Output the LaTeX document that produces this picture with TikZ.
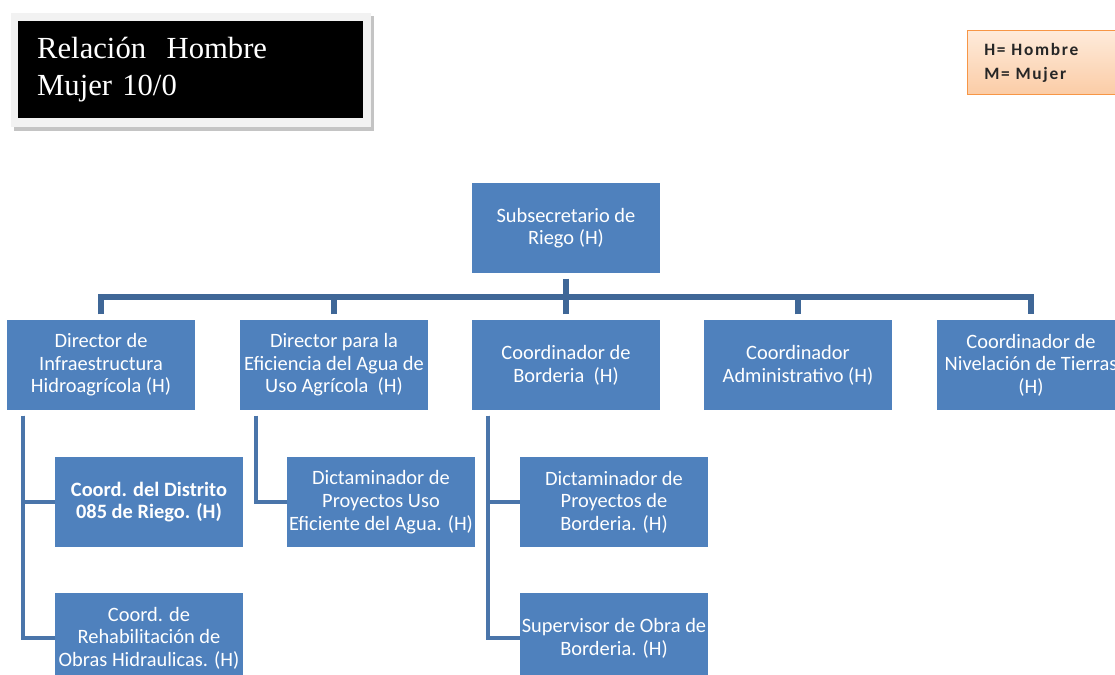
\documentclass[tikz,border=0pt]{standalone}
\usepackage{fontspec}
\setmainfont{Carlito}
\newfontfamily\serifa{Liberation Serif}
\usetikzlibrary{calc}

\definecolor{azul}{HTML}{4F81BD}
\definecolor{barra}{HTML}{3F6797}
\definecolor{rama}{HTML}{4A75AA}
\definecolor{marco}{HTML}{F2F2F2}
\definecolor{sombra}{HTML}{C4C4C4}
\definecolor{naranja}{HTML}{F79646}
\definecolor{durazno1}{HTML}{FEEBDB}
\definecolor{durazno2}{HTML}{FBCCA6}

\tikzset{
    puesto/.style={fill=azul, text=white, minimum width=141pt, minimum height=67.5pt,
        inner sep=0pt, align=center, font=\fontsize{15.3}{17}\selectfont},
    barraH/.style={draw=barra, line width=3.8pt},
    ramaV/.style={draw=rama, line width=3pt},
    titulo/.style={fill=black, text=white, minimum width=258.75pt, minimum height=72.75pt,
        text width=230pt, align=left, inner sep=0pt, font=\serifa\fontsize{23}{28}\selectfont},
    leyenda/.style={draw=naranja, line width=0.9pt, top color=durazno1, bottom color=durazno2,
        minimum width=120pt, minimum height=48pt, text width=95pt, align=left, inner sep=0pt,
        text=black!85, font=\bfseries\addfontfeatures{LetterSpace=10}\fontsize{13}{18}\selectfont}
}

\begin{document}
\begin{tikzpicture}[x=0.75pt, y=-0.75pt]
			\useasboundingbox (0,0) rectangle (1115,675);

			% Recuadro del titulo
			\fill[sombra] (14,16) rectangle (374,131);
			\fill[marco] (11,13) rectangle (371,127);
			\node[titulo] (relacion) at (190.5,69.5) {Relación~~Hombre\\Mujer 10/0};

			% Leyenda
			\node[leyenda, anchor=north west] (clave) at (967,30) {H= Hombre\\M= Mujer};

			% Nivel 1
			\node[puesto] (sub) at (566,228) {Subsecretario de\\Riego (H)};

			% Nivel 2
			\node[puesto] (dirInfra) at (101,365) {Director de\\Infraestructura\\Hidroagrícola (H)};
			\node[puesto] (dirAgua) at (334,365) {Director para la\\Eficiencia del Agua de\\Uso Agrícola~~(H)};
			\node[puesto] (coordBord) at (566,365) {Coordinador de\\Borderia~~(H)};
			\node[puesto] (coordAdm) at (798,365) {Coordinador\\Administrativo (H)};
			\node[puesto] (coordNiv) at (1031,365) {Coordinador de\\Nivelación de Tierras\\(H)};

			% Nivel 3
			\node[puesto, font=\bfseries\fontsize{15.3}{17}\selectfont] (coordDist) at (149,502) {Coord. del Distrito\\085 de Riego. (H)};
			\node[puesto] (coordRehab) at (149,638) {Coord. de\\Rehabilitación de\\Obras Hidraulicas. (H)};
			\node[puesto] (dictUso) at (381,502) {Dictaminador de\\Proyectos Uso\\Eficiente del Agua. (H)};
			\node[puesto] (dictBord) at (614,502) {Dictaminador de\\Proyectos de\\Borderia. (H)};
			\node[puesto] (supObra) at (614,638) {Supervisor de Obra de\\Borderia. (H)};

			% Conectores nivel 1 - nivel 2
			\coordinate (bus) at (566,297);
			\draw[barraH] ([yshift=-4pt]sub.south) -- (bus);
			\draw[barraH] ([yshift=4pt]dirInfra.north) |- (bus) -| ([yshift=4pt]coordNiv.north);
			\foreach \n in {dirAgua, coordBord, coordAdm} {
					\draw[barraH] ([yshift=4pt]\n.north) -- (\n.north |- bus);
				}

			% Conectores nivel 2 - nivel 3
			\draw[ramaV] ([xshift=12pt, yshift=-4pt]dirInfra.south west) |- (coordDist.west);
			\draw[ramaV] ([xshift=12pt, yshift=-4pt]dirInfra.south west) |- (coordRehab.west);
			\draw[ramaV] ([xshift=12.5pt, yshift=-4pt]dirAgua.south west) |- (dictUso.west);
			\draw[ramaV] ([xshift=12.5pt, yshift=-4pt]coordBord.south west) |- (dictBord.west);
			\draw[ramaV] ([xshift=12.5pt, yshift=-4pt]coordBord.south west) |- (supObra.west);
		\end{tikzpicture}
\end{document}
